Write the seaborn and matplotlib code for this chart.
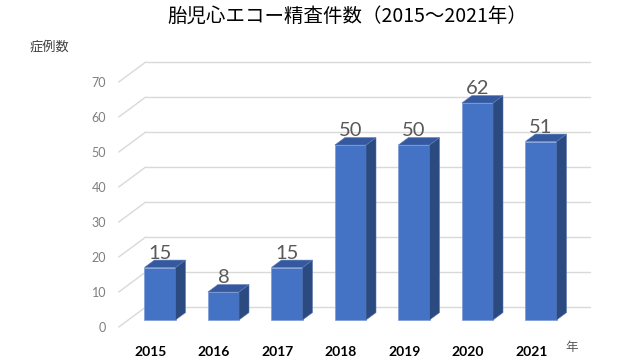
import matplotlib
matplotlib.use("Agg")
import matplotlib.pyplot as plt
import seaborn as sns
from matplotlib.patches import Polygon

# data
years = ["2015", "2016", "2017", "2018", "2019", "2020", "2021"]
cases = [15, 8, 15, 50, 50, 62, 51]
y_ticks = [0, 10, 20, 30, 40, 50, 60, 70]

title = "胎児心エコー精査件数（2015～2021年）"
y_label = "症例数"
x_unit = "年"

FRONT = "#4472C4"
SIDE = "#2B4A80"
TOP = "#35599F"
GRID = "#D9D9D9"

sns.set_theme(style="white")
plt.rcParams["font.family"] = ["Noto Sans CJK JP", "DejaVu Sans"]

fig = plt.figure(figsize=(6.3, 3.57), dpi=100)
ax = fig.add_axes([118.75 / 630, 30 / 357, 444.5 / 630, 245 / 357])

# depth of the 3d box in data units (about 27px right, 20px up)
dx = 27 / 63.5
dy = 20 / 3.5
bar_front, bar_back = 0.35, 0.72

sns.barplot(x=years, y=cases, color=FRONT, width=0.49, saturation=1, ax=ax,
            edgecolor="#7E9BD6", linewidth=0.5, zorder=3)
ax.set_xlim(-0.5, 6.5)
ax.set_ylim(0, 70)

# back wall grid + left wall diagonals
for v in y_ticks:
    ax.plot([-0.5, -0.5 + dx], [v, v + dy], color=GRID, lw=1, clip_on=False, zorder=1)
    ax.plot([-0.5 + dx, 6.5 + dx], [v + dy, v + dy], color=GRID, lw=1, clip_on=False, zorder=1)

ddx = (bar_back - bar_front) * dx
ddy = (bar_back - bar_front) * dy
for patch, v in zip(ax.patches, cases):
    x0 = patch.get_x() + bar_front * dx
    w = patch.get_width()
    b = bar_front * dy
    patch.set_x(x0)
    patch.set_y(b)
    patch.set_clip_on(False)
    x1 = x0 + w
    t = b + v
    side = Polygon([(x1, b), (x1 + ddx, b + ddy), (x1 + ddx, t + ddy), (x1, t)],
                   closed=True, fc=SIDE, ec="#5A78B5", lw=0.4, clip_on=False, zorder=3)
    top = Polygon([(x0, t), (x1, t), (x1 + ddx, t + ddy), (x0 + ddx, t + ddy)],
                  closed=True, fc=TOP, ec="#5A78B5", lw=0.4, clip_on=False, zorder=3)
    ax.add_patch(side)
    ax.add_patch(top)
    ax.text(x0 + w / 2, t + ddy + 0.4, str(v), ha="center", va="baseline",
            fontsize=14.5, color="#595959", family="Lato", zorder=4)

ax.set_yticks(y_ticks)
ax.tick_params(axis="y", length=0, pad=9, labelcolor="#7F7F7F", labelsize=9)
ax.tick_params(axis="x", length=0, pad=14, labelcolor="#000000", labelsize=10)
for lab in ax.get_yticklabels():
    lab.set_family("Lato")
for lab in ax.get_xticklabels():
    lab.set_family("Lato")
    lab.set_fontweight("bold")
ax.set_xlabel("")
ax.set_ylabel("")
ax.grid(False)
for s in ax.spines.values():
    s.set_visible(False)

fig.text(347 / 630, 1 - 16 / 357, title, ha="center", va="center", fontsize=14, color="#000000")
fig.text(30 / 630, 1 - 47 / 357, y_label, ha="left", va="center", fontsize=9.5, color="#404040")
fig.text(572 / 630, 1 - 348 / 357, x_unit, ha="center", va="center", fontsize=9, color="#595959")

fig.savefig("out.png", dpi=100)
